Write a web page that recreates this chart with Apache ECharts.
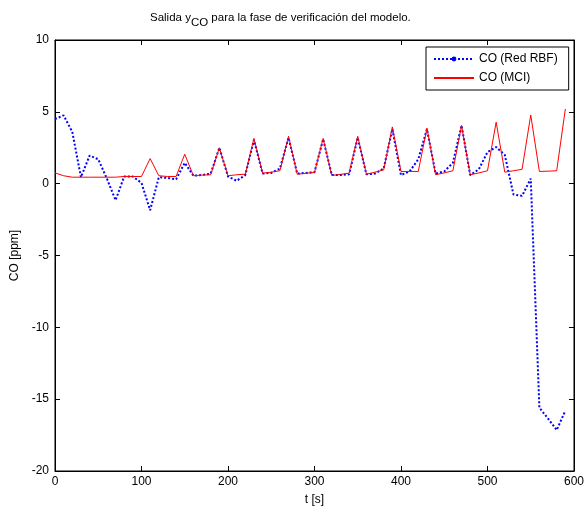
<!DOCTYPE html>
<html>
<head>
<meta charset="utf-8">
<script src="https://cdn.jsdelivr.net/npm/echarts@6/dist/echarts.min.js"></script>
<style>html,body{margin:0;padding:0;background:#fff;}#c{width:587px;height:511px;}</style>
</head>
<body>
<div id="c"></div>
<script>
var times = [0,10,20,30,40,50,60,70,80,90,100,110,120,130,140,150,160,170,180,190,200,210,220,230,240,250,260,270,280,290,300,310,320,330,340,350,360,370,380,390,400,410,420,430,440,450,460,470,480,490,500,510,520,530,540,550,560,570,580,590];
var rbf = [4.5,4.75,3.6,0.45,1.95,1.7,0.35,-1.15,0.5,0.5,0.05,-1.85,0.45,0.4,0.3,1.45,0.55,0.6,0.7,2.5,0.5,0.2,0.6,3.05,0.7,0.75,1.05,3.2,0.7,0.75,0.8,3.1,0.6,0.6,0.65,3.2,0.65,0.7,1.05,3.8,0.6,0.85,1.7,3.8,0.7,0.85,1.45,4.05,0.6,1.0,2.2,2.55,2.0,-0.75,-0.85,0.35,-15.6,-16.35,-17.15,-15.8];
var mci = [0.75,0.55,0.45,0.45,0.45,0.45,0.45,0.45,0.5,0.5,0.5,1.75,0.55,0.5,0.5,2.05,0.55,0.6,0.62,2.5,0.55,0.62,0.66,3.15,0.73,0.8,0.9,3.3,0.66,0.72,0.78,3.15,0.57,0.65,0.73,3.3,0.66,0.8,0.96,3.95,0.85,0.85,0.85,3.87,0.62,0.75,0.9,4.05,0.62,0.75,0.9,4.28,0.8,0.9,1.0,4.78,0.85,0.87,0.9,5.2];
var xTicks = [0,100,200,300,400,500,600];
var yTicks = [-20,-15,-10,-5,0,5,10];

function pairs(v){ return times.map(function(t,i){ return [t, v[i]]; }); }

var FONT = 'Liberation Sans, Arial, Helvetica, sans-serif';
var chart = echarts.init(document.getElementById('c'));
var tickStyle = {show:true, inside:true, length:5, lineStyle:{color:'#000', width:1}};
var lineAx = {show: true, onZero: false, lineStyle: {color: '#000', width: 1}};
chart.setOption({
  animation: false,
  backgroundColor: '#fff',
  title: {
    text: '{a|Salida y}{s|CO}{a| para la fase de verificación del modelo.}',
    left: 150, top: 7, padding: 0,
    textStyle: {
      fontWeight: 'normal',
      rich: {
        a: {fontFamily: FONT, fontSize: 11.5, fontWeight: 'normal', color: '#000', lineHeight: 22, verticalAlign: 'middle'},
        s: {fontFamily: FONT, fontSize: 11.5, fontWeight: 'normal', color: '#000', lineHeight: 12, verticalAlign: 'bottom'}
      }
    }
  },
  legend: {
    orient: 'vertical', left: 426, top: 47,
    padding: [5, 11, 5, 7],
    itemWidth: 40, itemHeight: 6, itemGap: 5, itemTextGap: 5,
    borderColor: '#000', borderWidth: 1, backgroundColor: '#fff',
    textStyle: {fontFamily: FONT, fontSize: 12, color: '#000', lineHeight: 14, height: 14},
    data: [{name: 'CO (Red RBF)'}, {name: 'CO (MCI)', itemStyle: {opacity: 0}}]
  },
  grid: {left: 55, right: 12, top: 40, bottom: 34, show: true, borderColor: '#000', borderWidth: 1, backgroundColor: '#fff'},
  xAxis: [{
    type: 'value', min: xTicks[0], max: xTicks[xTicks.length-1], interval: 100,
    name: 't [s]', nameLocation: 'middle', nameGap: 23,
    nameTextStyle: {fontFamily: FONT, fontSize: 12, color: '#000'},
    axisLine: lineAx,
    axisTick: tickStyle, splitLine: {show: false},
    axisLabel: {fontFamily: FONT, fontSize: 12, color: '#000', margin: 5}
  }, {
    type: 'value', position: 'top', min: xTicks[0], max: xTicks[xTicks.length-1], interval: 100,
    axisLine: lineAx,
    axisTick: tickStyle, splitLine: {show: false}, axisLabel: {show: false}
  }],
  yAxis: [{
    type: 'value', min: yTicks[0], max: yTicks[yTicks.length-1], interval: 5,
    name: 'CO [ppm]', nameLocation: 'middle', nameGap: 27, nameRotate: 90,
    nameTextStyle: {fontFamily: FONT, fontSize: 12, color: '#000'},
    axisLine: lineAx,
    axisTick: tickStyle, splitLine: {show: false},
    axisLabel: {fontFamily: FONT, fontSize: 12, color: '#000', margin: 6}
  }, {
    type: 'value', position: 'right', min: yTicks[0], max: yTicks[yTicks.length-1], interval: 5,
    axisLine: lineAx,
    axisTick: tickStyle, splitLine: {show: false}, axisLabel: {show: false}
  }],
  series: [{
    name: 'CO (Red RBF)', type: 'line', data: pairs(rbf),
    xAxisIndex: 0, yAxisIndex: 0,
    symbol: 'circle', symbolSize: 5, showSymbol: false,
    itemStyle: {color: '#0000ff'},
    lineStyle: {color: '#0000ff', width: 2, type: [2, 2]},
    z: 2
  }, {
    name: 'CO (MCI)', type: 'line', data: pairs(mci),
    xAxisIndex: 0, yAxisIndex: 0,
    symbol: 'none',
    itemStyle: {color: '#ff0000'},
    lineStyle: {color: '#ff0000', width: 1, type: 'solid'},
    z: 3
  }]
});
</script>
</body>
</html>
